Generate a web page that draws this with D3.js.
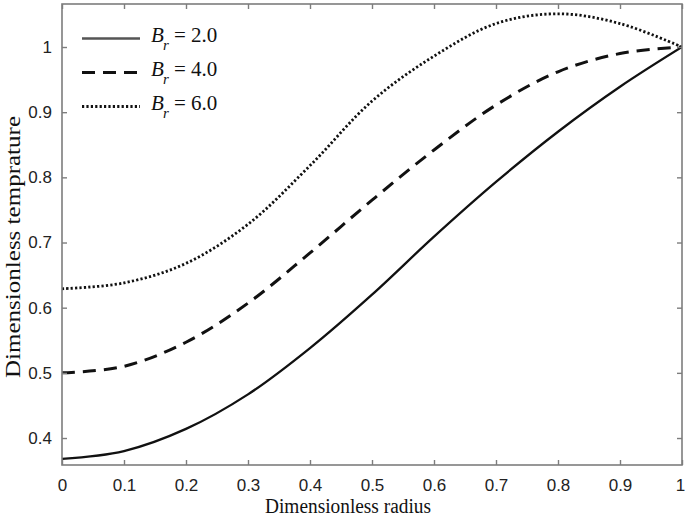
<!DOCTYPE html>
<html>
<head>
<meta charset="utf-8">
<script src="https://cdn.jsdelivr.net/npm/d3@7"></script>
<style>
  html, body { margin: 0; padding: 0; background: #fff; }
  svg { display: block; }
</style>
</head>
<body>
<svg id="chart" width="685" height="520"></svg>
<script>
// ---- data ----
const radius = [0, 0.1, 0.2, 0.3, 0.4, 0.5, 0.6, 0.7, 0.8, 0.9, 1.0];
const br2 = [0.368, 0.380, 0.414, 0.467, 0.538, 0.620, 0.709, 0.793, 0.870, 0.939, 1.0];
const br4 = [0.500, 0.510, 0.547, 0.607, 0.684, 0.765, 0.842, 0.911, 0.962, 0.990, 1.0];
const br6 = [0.629, 0.638, 0.668, 0.728, 0.818, 0.917, 0.986, 1.036, 1.051, 1.036, 1.0];
const seriesNames = ["2.0", "4.0", "6.0"];
const xTicks = [0, 0.1, 0.2, 0.3, 0.4, 0.5, 0.6, 0.7, 0.8, 0.9, 1];
const yTicks = [0.4, 0.5, 0.6, 0.7, 0.8, 0.9, 1];
const xTitle = "Dimensionless radius";
const yTitle = "Dimensionless temprature";

const series = [
  { name: seriesNames[0], values: br2, dash: null, width: 2.3 },
  { name: seriesNames[1], values: br4, dash: "13,8", width: 3 },
  { name: seriesNames[2], values: br6, dash: "2.2,2.2", width: 2.8 }
];

const svg = d3.select("#chart");
const L = 62, R = 682, T = 4, B = 465;

const x = d3.scaleLinear().domain([0, 1]).range([L, R]);
const y = d3.scaleLinear().domain([0.3586, 1.066]).range([B, T]);

const fmt = d => String(d);

// curves
const line = d3.line()
  .x((d, i) => x(radius[i]))
  .y(d => y(d))
  .curve(d3.curveCatmullRom.alpha(0.5));

const plot = svg.append("g");
plot.append("defs").append("clipPath").attr("id", "clip")
  .append("rect").attr("x", L).attr("y", T).attr("width", R - L).attr("height", B - T);

series.forEach(s => {
  plot.append("path")
    .datum(s.values)
    .attr("d", line)
    .attr("fill", "none")
    .attr("stroke", "#111")
    .attr("stroke-width", s.width)
    .attr("stroke-dasharray", s.dash)
    .attr("clip-path", "url(#clip)");
});

// frame
const frameColor = "#7d7d7d";
svg.append("rect")
  .attr("x", L).attr("y", T).attr("width", R - L).attr("height", B - T)
  .attr("fill", "none").attr("stroke", frameColor).attr("stroke-width", 1.6);

// axes with inward ticks
const tickFont = "'Liberation Sans', Arial, sans-serif";
const xAxis = d3.axisBottom(x).tickValues(xTicks).tickSize(-5).tickPadding(14).tickFormat(fmt);
const yAxis = d3.axisLeft(y).tickValues(yTicks).tickSize(-5).tickPadding(10).tickFormat(fmt);
const xTop = d3.axisTop(x).tickValues(xTicks).tickSize(-5).tickFormat("");
const yRight = d3.axisRight(y).tickValues(yTicks).tickSize(-5).tickFormat("");

function styleAxis(g) {
  g.select(".domain").remove();
  g.selectAll(".tick line").attr("stroke", frameColor).attr("stroke-width", 1.4);
  g.selectAll(".tick text").attr("fill", "#222").style("font-family", tickFont).style("font-size", "17px");
}

svg.append("g").attr("transform", `translate(0,${B})`).call(xAxis).call(styleAxis)
  .selectAll(".tick text").attr("dy", "0.71em").attr("dx", d => d === 1 ? -2 : 0);
svg.append("g").attr("transform", `translate(${L},0)`).call(yAxis).call(styleAxis);
svg.append("g").attr("transform", `translate(0,${T})`).call(xTop).call(styleAxis);
svg.append("g").attr("transform", `translate(${R},0)`).call(yRight).call(styleAxis);

// axis titles
const serif = "'Liberation Serif', 'Times New Roman', serif";
svg.append("text")
  .attr("x", 348).attr("y", 513)
  .attr("text-anchor", "middle")
  .attr("textLength", 166).attr("lengthAdjust", "spacingAndGlyphs")
  .style("font-family", serif).style("font-size", "20px").attr("fill", "#111")
  .text(xTitle);

svg.append("text")
  .attr("transform", "translate(20,247) rotate(-90)")
  .attr("text-anchor", "middle")
  .attr("textLength", 262).attr("lengthAdjust", "spacingAndGlyphs")
  .style("font-family", serif).style("font-size", "22px").attr("fill", "#111")
  .text(yTitle);

// legend
const legend = svg.append("g");
const rowBase = [41.5, 75.5, 109.5];
series.forEach((s, i) => {
  const by = rowBase[i];
  legend.append("line")
    .attr("x1", 82).attr("x2", 140).attr("y1", by - 3).attr("y2", by - 3)
    .attr("stroke", i === 0 ? "#555" : "#111")
    .attr("stroke-width", s.width)
    .attr("stroke-dasharray", s.dash);
  const t = legend.append("text").attr("y", by)
    .style("font-family", serif).style("font-size", "21px").attr("fill", "#111");
  t.append("tspan").attr("x", 151).style("font-style", "italic").text("B");
  t.append("tspan").attr("x", 163).attr("dy", 8).style("font-style", "italic").style("font-size", "15px").text("r");
  t.append("tspan").attr("x", 174).attr("dy", -8).text("= " + s.name);
});
</script>
</body>
</html>
